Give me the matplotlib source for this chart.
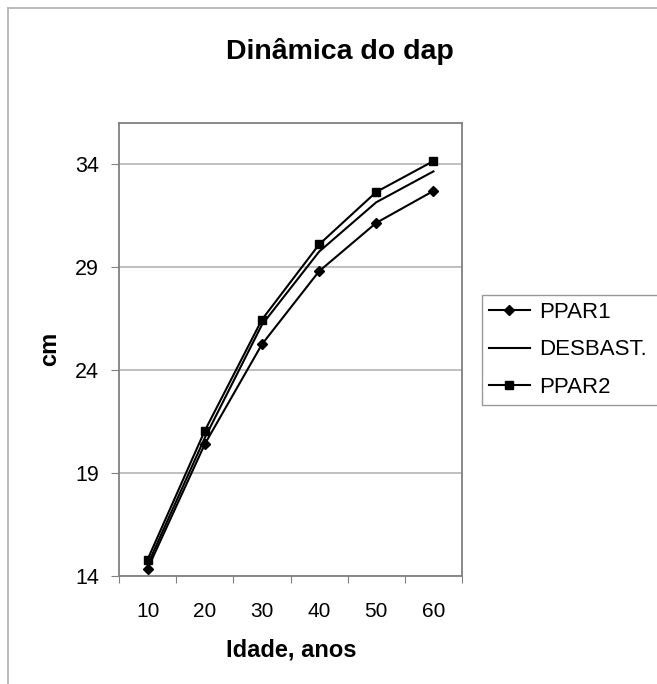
import matplotlib
matplotlib.use("Agg")
import matplotlib.pyplot as plt
from matplotlib.lines import Line2D

plt.rcParams['font.family'] = ['Liberation Sans', 'DejaVu Sans']

idade = ["10", "20", "30", "40", "50", "60"]
ppar1 = [14.35, 20.4, 25.25, 28.8, 31.15, 32.7]
desbast = [14.55, 20.7, 26.2, 29.75, 32.15, 33.65]
ppar2 = [14.8, 21.05, 26.45, 30.1, 32.65, 34.15]

fig = plt.figure(figsize=(6.57, 6.84), dpi=100)
ax = fig.add_axes([119/657, 1 - 576/684, (462 - 119)/657, (576 - 123)/684])

x = list(range(len(idade)))
ax.plot(x, ppar1, color='black', lw=1.5, marker='D', ms=5.5, label='PPAR1')
ax.plot(x, desbast, color='black', lw=1.5, label='DESBAST.')
ax.plot(x, ppar2, color='black', lw=1.5, marker='s', ms=6, label='PPAR2')

ax.set_xlim(-0.5, len(idade) - 0.5)
ax.set_ylim(14, 36)
ax.set_yticks([14, 19, 24, 29, 34])
ax.yaxis.grid(True, color='#b4b4b4', lw=1.2)
ax.set_axisbelow(True)

# category boundaries get the ticks, labels sit in the middle
ax.set_xticks([i - 0.5 for i in range(len(idade) + 1)])
ax.set_xticklabels([])
ax.set_xticks(x, minor=True)
ax.set_xticklabels(idade, minor=True)
ax.tick_params(axis='x', which='minor', length=0, pad=19, labelsize=15)
ax.tick_params(axis='x', which='major', length=5, color='#808080')
ax.tick_params(axis='y', length=6, pad=8.5, labelsize=15.5, color='#808080')

for s in ax.spines.values():
    s.set_color('#808080')
    s.set_linewidth(1.3)

fig.text(340/657, 1 - 59/684, 'Dinâmica do dap', ha='center', va='baseline',
         fontsize=20.5, fontweight='bold')
fig.text(291/657, 1 - 657/684, 'Idade, anos', ha='center', va='baseline',
         fontsize=17, fontweight='bold')
fig.text(50/657, 1 - 349/684, 'cm', ha='center', va='center', rotation=90,
         fontsize=17, fontweight='bold')

# legend box runs off the right edge like in the original
leg = fig.legend(loc='upper left',
                 bbox_to_anchor=(482/657, 1 - 404/684, 0.3, 109/684),
                 mode='expand', fontsize=16, frameon=True, fancybox=False,
                 handlelength=1.85, handletextpad=0.4, labelspacing=0.75,
                 borderpad=0.3, borderaxespad=0)
leg.get_frame().set_edgecolor('#808080')
leg.get_frame().set_linewidth(1.0)

# outer chart border (left and top visible)
fig.add_artist(Line2D([8/657, 8/657], [0, 1 - 8/684], transform=fig.transFigure,
                      color='#b0b0b0', lw=1.2))
fig.add_artist(Line2D([8/657, 1], [1 - 8/684, 1 - 8/684], transform=fig.transFigure,
                      color='#b0b0b0', lw=1.2))

fig.savefig('out.png', dpi=100)
